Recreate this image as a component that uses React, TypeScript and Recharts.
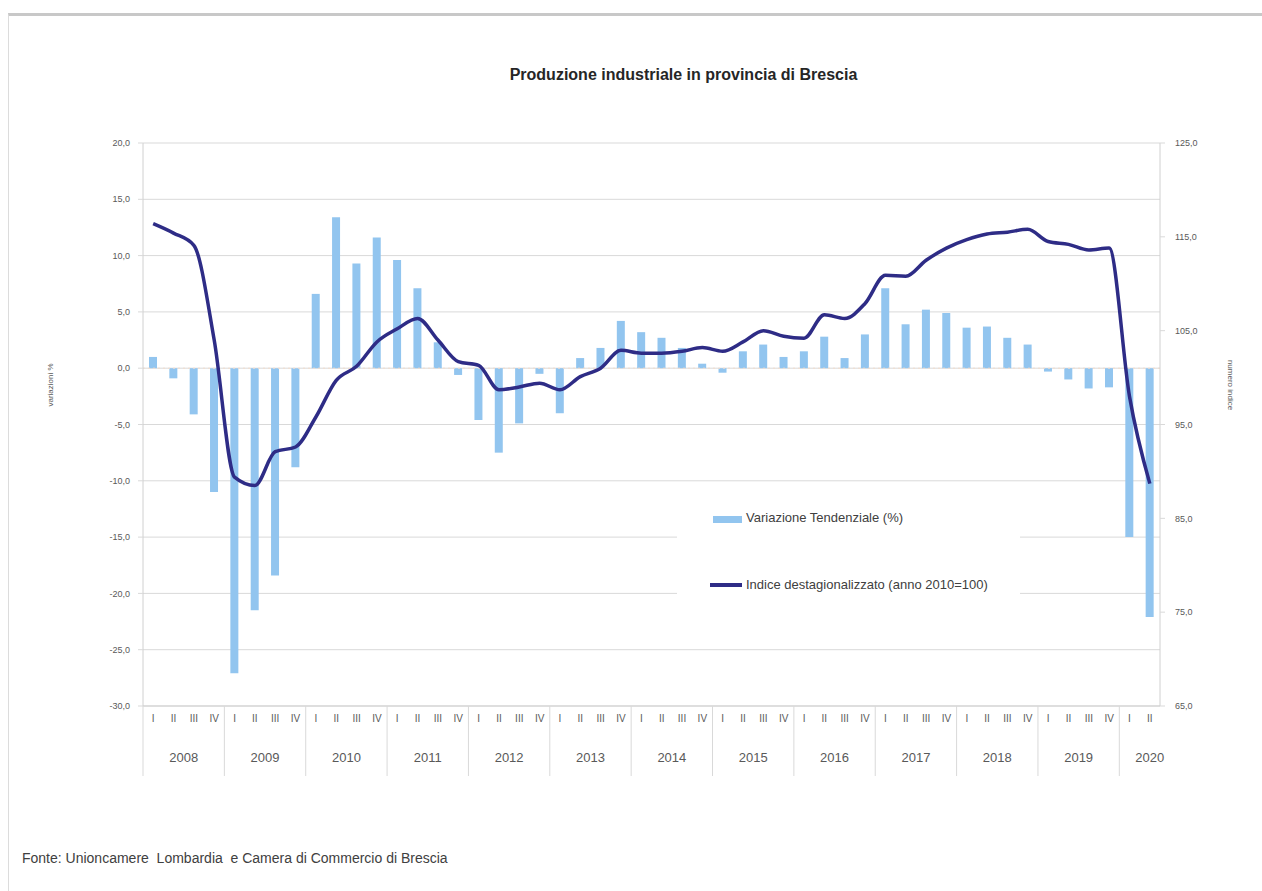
import { ComposedChart, Bar, Line, XAxis, YAxis, CartesianGrid, Legend, ReferenceLine } from 'recharts';

const years = ['2008', '2009', '2010', '2011', '2012', '2013', '2014', '2015', '2016', '2017', '2018', '2019', '2020'];
const quarters = ['I', 'II', 'III', 'IV'];

// variazione tendenziale (%)
const variazione = [
  1.0, -0.9, -4.1, -11.0,
  -27.1, -21.5, -18.4, -8.8,
  6.6, 13.4, 9.3, 11.6,
  9.6, 7.1, 2.3, -0.6,
  -4.6, -7.5, -4.9, -0.5,
  -4.0, 0.9, 1.8, 4.2,
  3.2, 2.7, 1.8, 0.4,
  -0.4, 1.5, 2.1, 1.0,
  1.5, 2.8, 0.9, 3.0,
  7.1, 3.9, 5.2, 4.9,
  3.6, 3.7, 2.7, 2.1,
  -0.3, -1.0, -1.8, -1.7,
  -15.0, -22.1,
];

// indice destagionalizzato (2010=100)
const indice = [
  116.4, 115.4, 114.1, 104.0,
  89.4, 88.5, 92.1, 92.6,
  95.8, 99.7, 101.2, 103.8,
  105.2, 106.3, 104.0, 101.7,
  101.3, 98.7, 99.0, 99.4,
  98.7, 100.1, 101.0, 102.9,
  102.6, 102.6, 102.8, 103.2,
  102.8, 103.8, 105.0, 104.4,
  104.2, 106.7, 106.3, 107.9,
  110.9, 110.8, 112.5, 113.8,
  114.7, 115.3, 115.5, 115.8,
  114.5, 114.2, 113.6, 113.8,
  98.0, 88.7,
];

const leftTicks = [-30, -25, -20, -15, -10, -5, 0, 5, 10, 15, 20];
const rightTicks = [65, 75, 85, 95, 105, 115, 125];

const data = variazione.map((v, i) => ({
  i,
  q: quarters[i % 4],
  year: years[Math.floor(i / 4)],
  variazione: v,
  indice: indice[i],
}));

const FONT = '"Liberation Sans", Arial, sans-serif';
const PLOT_BOTTOM = 706;
const BAND = (1160 - 143) / data.length;
const fmt = (v: number) => v.toFixed(1).replace('.', ',');

const QuarterTick = (props: any) => {
  const { x, payload } = props;
  return (
    <text x={x} y={PLOT_BOTTOM + 16} textAnchor="middle" fontSize={10} fill="#595959" fontFamily={FONT}>
      {payload.value}
    </text>
  );
};

const YearTick = (props: any) => {
  const { x, payload } = props;
  const i = payload.value as number;
  const qi = i % 4;
  const yi = Math.floor(i / 4);
  const nq = Math.min(4, data.length - yi * 4);
  return (
    <g>
      {qi === 0 && (
        <line x1={x - BAND / 2} x2={x - BAND / 2} y1={PLOT_BOTTOM} y2={PLOT_BOTTOM + 70} stroke="#d9d9d9" />
      )}
      {qi === 1 && (
        <text x={x + (nq === 4 ? BAND / 2 : 0)} y={PLOT_BOTTOM + 56} textAnchor="middle" fontSize={13} fill="#595959" fontFamily={FONT}>
          {years[yi]}
        </text>
      )}
    </g>
  );
};

const LegendBox = () => (
  <div style={{ background: '#fff', width: 343, height: 128, position: 'relative', fontFamily: FONT, fontSize: 13, color: '#404040' }}>
    <div style={{ position: 'absolute', left: 36, top: 24, width: 29, height: 7, background: '#92c5ef' }} />
    <div style={{ position: 'absolute', left: 69, top: 18 }}>Variazione Tendenziale (%)</div>
    <div style={{ position: 'absolute', left: 33, top: 91, width: 32, height: 4, background: '#2e2c86' }} />
    <div style={{ position: 'absolute', left: 69, top: 85 }}>Indice destagionalizzato (anno 2010=100)</div>
  </div>
);

export default function App() {
  return (
    <div style={{ position: 'absolute', left: 0, top: 0, width: 1262, height: 891, background: '#fff', fontFamily: FONT }}>
      <div style={{ position: 'absolute', left: 8, top: 13, width: 1254, height: 878, borderTop: '3px solid #c8c8c8', borderLeft: '1px solid #dcdcdc', boxSizing: 'border-box' }} />
      <div style={{ position: 'absolute', left: 0, width: 1262, top: 66, textAlign: 'center', fontSize: 16, fontWeight: 'bold', color: '#262626', paddingLeft: 105, boxSizing: 'border-box' }}>
        Produzione industriale in provincia di Brescia
      </div>
      <div style={{ position: 'absolute', left: 0, top: 0 }}>
        <ComposedChart width={1262} height={891} data={data} margin={{ top: 143, right: 42, left: 83, bottom: 115 }}>
          <CartesianGrid yAxisId="left" vertical={false} stroke="#d9d9d9" />
          <XAxis xAxisId="q" dataKey="q" interval={0} tickLine={false} axisLine={{ stroke: '#d0d0d0' }} height={30} tick={<QuarterTick />} />
          <XAxis xAxisId="year" dataKey="i" interval={0} tickLine={false} axisLine={false} height={40} tick={<YearTick />} />
          <YAxis
            yAxisId="left"
            domain={[-30, 20]}
            ticks={leftTicks}
            tickFormatter={fmt}
            width={60}
            tickSize={5}
            tickMargin={8}
            axisLine={{ stroke: '#d0d0d0' }}
            tickLine={{ stroke: '#d9d9d9' }}
            tick={{ fontSize: 9, fill: '#595959', fontFamily: FONT }}
          />
          <YAxis
            yAxisId="right"
            orientation="right"
            domain={[65, 125]}
            ticks={rightTicks}
            tickFormatter={fmt}
            width={60}
            tickSize={5}
            tickMargin={10}
            axisLine={{ stroke: '#d0d0d0' }}
            tickLine={{ stroke: '#d9d9d9' }}
            tick={{ fontSize: 9, fill: '#595959', fontFamily: FONT }}
          />
          <ReferenceLine yAxisId="left" xAxisId="q" y={0} stroke="#f3dccb" strokeDasharray="2 3" />
          <Bar xAxisId="q" yAxisId="left" dataKey="variazione" name="Variazione Tendenziale (%)" fill="#92c5ef" barSize={8} isAnimationActive={false} />
          <Line xAxisId="q" yAxisId="right" dataKey="indice" name="Indice destagionalizzato (anno 2010=100)" type="monotone" stroke="#2e2c86" strokeWidth={3.5} dot={false} isAnimationActive={false} />
          <Legend
            layout="vertical"
            align="center"
            verticalAlign="middle"
            content={<LegendBox />}
            wrapperStyle={{ left: 677, top: 492, width: 343, height: 128 }}
          />
        </ComposedChart>
      </div>
      <div style={{ position: 'absolute', left: 50, top: 385, transform: 'translate(-50%, -50%) rotate(-90deg)', fontSize: 8, color: '#595959', whiteSpace: 'nowrap' }}>
        variazioni %
      </div>
      <div style={{ position: 'absolute', left: 1230, top: 385, transform: 'translate(-50%, -50%) rotate(90deg)', fontSize: 8, color: '#595959', whiteSpace: 'nowrap' }}>
        numero indice
      </div>
      <div style={{ position: 'absolute', left: 22, top: 850, fontSize: 14, color: '#404040' }}>
        Fonte: Unioncamere&nbsp; Lombardia&nbsp; e Camera di Commercio di Brescia
      </div>
    </div>
  );
}
